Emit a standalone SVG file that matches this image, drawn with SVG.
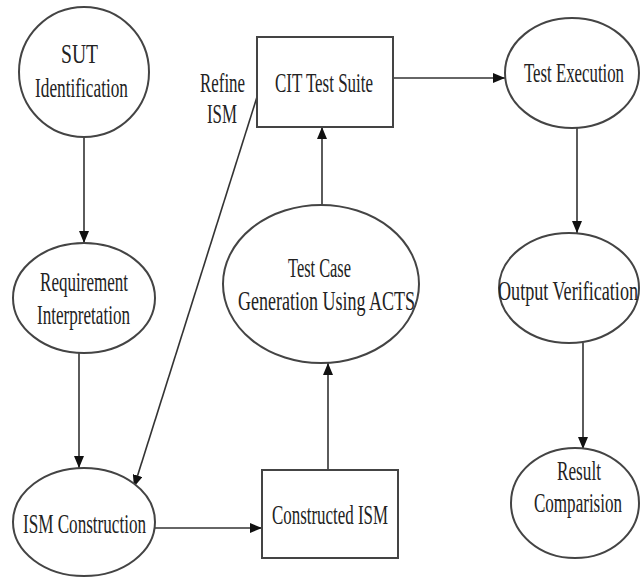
<svg xmlns="http://www.w3.org/2000/svg" width="641" height="578" viewBox="0 0 641 578">
<style>
.n{fill:#fff;stroke:#444;stroke-width:2}
.t{font-family:"Liberation Serif","Times New Roman",serif;font-size:27px;fill:#222;text-anchor:middle}
.c{stroke:#333;stroke-width:1.6;fill:none;marker-end:url(#ah)}
</style>
<defs>
<marker id="ah" markerUnits="userSpaceOnUse" markerWidth="12" markerHeight="10" refX="12" refY="5" orient="auto">
<path d="M0,0 L12,5 L0,10 Z" fill="#111"/>
</marker>
</defs>
<rect width="641" height="578" fill="#fff"/>
<g id="connectors">
<line class="c" x1="84" y1="137" x2="84" y2="243"/>
<line class="c" x1="79" y1="353" x2="79" y2="468"/>
<line class="c" x1="257" y1="97" x2="134" y2="487"/>
<line class="c" x1="155" y1="528" x2="262" y2="528"/>
<line class="c" x1="328" y1="470" x2="328" y2="363"/>
<line class="c" x1="322" y1="205" x2="322" y2="127"/>
<line class="c" x1="393" y1="78" x2="505" y2="78"/>
<line class="c" x1="577" y1="128" x2="577" y2="233"/>
<line class="c" x1="583" y1="343" x2="583" y2="449"/>
</g>
<g id="sut">
<ellipse class="n" cx="84" cy="72" rx="65" ry="65"/>
<text class="t" transform="matrix(0.62,0,0,1,79.5,63)" textLength="59.7" lengthAdjust="spacingAndGlyphs">SUT</text>
<text class="t" transform="matrix(0.62,0,0,1,81.5,97)" textLength="150" lengthAdjust="spacingAndGlyphs">Identification</text>
</g>
<g id="requirement">
<ellipse class="n" cx="84" cy="298" rx="71" ry="55"/>
<text class="t" transform="matrix(0.62,0,0,1,84,291)" textLength="141.9" lengthAdjust="spacingAndGlyphs">Requirement</text>
<text class="t" transform="matrix(0.62,0,0,1,83.5,324)" textLength="150" lengthAdjust="spacingAndGlyphs">Interpretation</text>
</g>
<g id="ism-construction">
<ellipse class="n" cx="84" cy="522" rx="71" ry="54"/>
<text class="t" transform="matrix(0.62,0,0,1,84.5,533)" textLength="198.4" lengthAdjust="spacingAndGlyphs">ISM Construction</text>
</g>
<g id="refine-label">
<text class="t" transform="matrix(0.62,0,0,1,222.5,92)" textLength="72.6" lengthAdjust="spacingAndGlyphs">Refine</text>
<text class="t" transform="matrix(0.62,0,0,1,222,123)" textLength="48.4" lengthAdjust="spacingAndGlyphs">ISM</text>
</g>
<g id="cit">
<rect class="n" x="257" y="37" width="136" height="90"/>
<text class="t" transform="matrix(0.62,0,0,1,324,92)" textLength="158" lengthAdjust="spacingAndGlyphs">CIT Test Suite</text>
</g>
<g id="testcase">
<ellipse class="n" cx="321" cy="284" rx="98" ry="79"/>
<text class="t" transform="matrix(0.62,0,0,1,319.5,277)" textLength="101.6" lengthAdjust="spacingAndGlyphs">Test Case</text>
<text class="t" transform="matrix(0.62,0,0,1,326.5,310)" textLength="285.5" lengthAdjust="spacingAndGlyphs">Generation Using ACTS</text>
</g>
<g id="constructed">
<rect class="n" x="262" y="470" width="136" height="88"/>
<text class="t" transform="matrix(0.62,0,0,1,330,524)" textLength="187" lengthAdjust="spacingAndGlyphs">Constructed ISM</text>
</g>
<g id="execution">
<ellipse class="n" cx="572" cy="73" rx="67" ry="55"/>
<text class="t" transform="matrix(0.62,0,0,1,574,82)" textLength="161.3" lengthAdjust="spacingAndGlyphs">Test Execution</text>
</g>
<g id="verification">
<ellipse class="n" cx="569" cy="288" rx="70" ry="55"/>
<text class="t" transform="matrix(0.62,0,0,1,568,300)" textLength="225.8" lengthAdjust="spacingAndGlyphs">Output Verification</text>
</g>
<g id="result">
<ellipse class="n" cx="575" cy="503" rx="64" ry="55"/>
<text class="t" transform="matrix(0.62,0,0,1,579,480)" textLength="71" lengthAdjust="spacingAndGlyphs">Result</text>
<text class="t" transform="matrix(0.62,0,0,1,578,512)" textLength="142" lengthAdjust="spacingAndGlyphs">Comparision</text>
</g>
</svg>
